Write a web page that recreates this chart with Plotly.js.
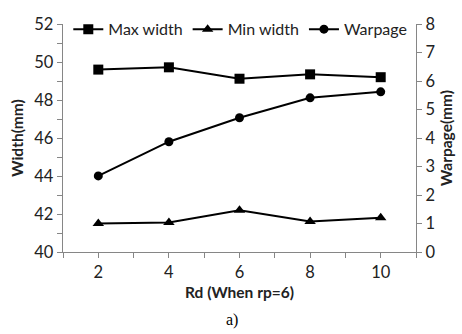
<!DOCTYPE html>
<html><head><meta charset="utf-8">
<script src="https://cdn.plot.ly/plotly-3.0.1.min.js"></script>
<style>html,body{margin:0;padding:0;background:#fff}#c{width:462px;height:334px}</style>
</head><body><div id="c"></div>
<script>
const rd = [2, 4, 6, 8, 10];
const maxWidth = [49.6, 49.72, 49.12, 49.35, 49.2];
const minWidth = [41.5, 41.55, 42.2, 41.6, 41.8];
const warpage = [2.67, 3.87, 4.71, 5.41, 5.62];

const F = 'Lato, "Liberation Sans", sans-serif';
const line = {color: '#000', width: 2};
const traces = [
  {x: rd, y: maxWidth, name: 'Max width', mode: 'lines+markers', line: line,
   marker: {symbol: 'square', size: 10, color: '#000'}},
  {x: rd, y: minWidth, name: 'Min width', mode: 'lines+markers', line: line,
   marker: {symbol: 'triangle-up', size: 10, color: '#000'}},
  {x: rd, y: warpage, name: 'Warpage', mode: 'lines+markers', line: line, yaxis: 'y2',
   marker: {symbol: 'circle', size: 9, color: '#000'}}
];
const axCommon = {showgrid: false, zeroline: false, showline: true, linecolor: '#868686', linewidth: 1.3,
  ticks: 'outside', ticklen: 5, tickcolor: '#868686', tickfont: {family: F, size: 16.5, color: '#222'}};
const layout = {
  width: 462, height: 334,
  margin: {l: 63, r: 46, t: 17, b: 82},
  paper_bgcolor: '#fff', plot_bgcolor: '#fff',
  showlegend: true,
  legend: {orientation: 'h', x: 0.015, y: 0.977, xanchor: 'left', yanchor: 'middle',
    bgcolor: 'rgba(0,0,0,0)', font: {family: F, size: 16, color: '#222'}, itemwidth: 30, tracegroupgap: 0},
  xaxis: Object.assign({}, axCommon, {range: [1, 11], tick0: 0, dtick: 2, minor: {dtick: 1, ticks: 'outside', ticklen: 5, tickcolor: '#868686'},
    title: {text: '<b>Rd (When rp=6)</b>', font: {family: F, size: 15.5, color: '#222'}, standoff: 6}}),
  yaxis: Object.assign({}, axCommon, {range: [40, 52], dtick: 2, minor: {dtick: 1, ticks: 'outside', ticklen: 5, tickcolor: '#868686'},
    title: {text: '<b>Width(mm)</b>', font: {family: F, size: 15.5, color: '#222'}, standoff: 6}}),
  yaxis2: Object.assign({}, axCommon, {range: [0, 8], dtick: 1, overlaying: 'y', side: 'right',
    title: {text: '<b>Warpage(mm)</b>', font: {family: F, size: 15.5, color: '#222'}, standoff: 6}}),
  annotations: [{text: 'a)', xref: 'paper', yref: 'paper', x: 0.48, y: -0.298, yanchor: 'middle', showarrow: false,
    font: {family: '"Liberation Serif", serif', size: 16, color: '#000'}}]
};
Plotly.newPlot('c', traces, layout, {displayModeBar: false, staticPlot: true});
</script></body></html>
